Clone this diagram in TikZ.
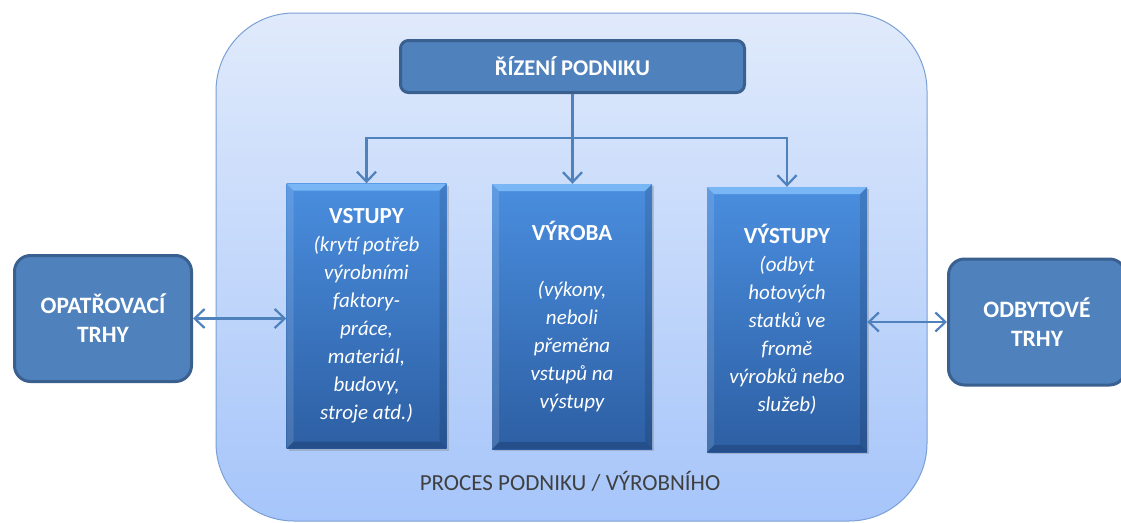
\documentclass[tikz,border=0pt]{standalone}
\usepackage{fontspec}
\setmainfont{Carlito}
\usetikzlibrary{arrows.meta,shadows}

\definecolor{boxblue}{HTML}{4F81BD}
\definecolor{boxedge}{HTML}{3A6090}
\definecolor{frametop}{HTML}{E0EAFB}
\definecolor{framebot}{HTML}{A6C5FA}
\definecolor{frameedge}{HTML}{7AA0D6}
\definecolor{phasetop}{HTML}{4A8EDF}
\definecolor{phasebot}{HTML}{2D5FA3}
\definecolor{bevlight}{HTML}{78B6F6}
\definecolor{bevdark}{HTML}{254F8A}
\definecolor{capgray}{HTML}{404040}

\newcommand{\bevelrim}{%
  \fill[bevlight] (path picture bounding box.north west) -- (path picture bounding box.north east)
    -- ++(-7pt,-7pt) -- ([shift={(7pt,-7pt)}]path picture bounding box.north west) -- cycle;
  \fill[bevdark] (path picture bounding box.south west) -- (path picture bounding box.south east)
    -- ++(-7pt,7pt) -- ([shift={(7pt,7pt)}]path picture bounding box.south west) -- cycle;
  \fill[white,opacity=.12] (path picture bounding box.north west) -- ++(7pt,-7pt)
    -- ([shift={(7pt,7pt)}]path picture bounding box.south west) -- (path picture bounding box.south west) -- cycle;
  \fill[black,opacity=.12] (path picture bounding box.north east) -- ++(-7pt,-7pt)
    -- ([shift={(-7pt,7pt)}]path picture bounding box.south east) -- (path picture bounding box.south east) -- cycle;
}
\newcommand{\phasehead}[1]{{\fontsize{23}{28}\selectfont\bfseries\upshape #1}}

\tikzset{
  podnik/.style={draw=frameedge, line width=1pt, top color=frametop, bottom color=framebot,
    rounded corners=78pt, minimum width=711pt, minimum height=508pt},
  mgmt/.style={draw=boxedge, line width=3pt, fill=boxblue, rounded corners=8pt, text=white,
    font=\fontsize{22.5}{24}\selectfont\bfseries, minimum width=344pt, minimum height=52pt},
  market/.style={draw=boxedge, line width=3pt, fill=boxblue, rounded corners=16pt, text=white,
    align=center, font=\fontsize{23.5}{29}\selectfont\bfseries, minimum width=177pt, minimum height=126pt},
  phase/.style={draw=none, top color=phasetop, bottom color=phasebot, text=white, align=center,
    font=\fontsize{21}{28}\selectfont\itshape, minimum width=160pt, minimum height=265pt,
    drop shadow={opacity=.35, shadow xshift=2pt, shadow yshift=-2pt}, path picture={\bevelrim}},
  flow/.style={draw=boxblue, line width=2.2pt, -{Straight Barb[length=10pt,width=19pt]}},
  both/.style={draw=boxblue, line width=2.2pt, {Straight Barb[length=10pt,width=19pt]}-{Straight Barb[length=10pt,width=19pt]}}
}

\begin{document}
\begin{tikzpicture}[x=1pt, y=-1pt]
    \useasboundingbox (0,0) rectangle (1121,522);
    \node[podnik] (frame) at (571.5,267) {};
    \node[mgmt] (rizeni) at (572.5,66.5) {ŘÍZENÍ PODNIKU};
    \node[phase] (vstupy) at (366.5,316) {\phasehead{VSTUPY}\\(krytí potřeb\\výrobními\\faktory-\\práce,\\materiál,\\budovy,\\stroje atd.)};
    \node[phase] (vyroba) at (572,316.5) {\phasehead{VÝROBA}\\[28pt](výkony,\\neboli\\přeměna\\vstupů na\\výstupy};
    \node[phase] (vystupy) at (787,319.5) {\phasehead{VÝSTUPY}\\(odbyt\\hotových\\statků ve\\fromě\\výrobků nebo\\služeb)};
    \node[market] (opatr) at (103,318.5) {OPATŘOVACÍ\\TRHY};
    \node[market] (odbyt) at (1037,322) {ODBYTOVÉ\\TRHY};
    \node[text=capgray, font=\fontsize{23}{24}\selectfont] (proces) at (570,481) {PROCES PODNIKU / VÝROBNÍHO};
    % rozvod od rizeni
    \coordinate (split) at (572.5,138);
    \draw[flow] (rizeni.south) -- (rizeni.south |- vyroba.north);
    \draw[flow] (split) -| (vstupy);
    \draw[flow] (split) -| (vystupy);
    % trhy
    \draw[both] (opatr.east) -- (vstupy.west |- opatr.east);
    \draw[both] (vystupy.east |- odbyt.west) -- (odbyt.west);
\end{tikzpicture}
\end{document}
